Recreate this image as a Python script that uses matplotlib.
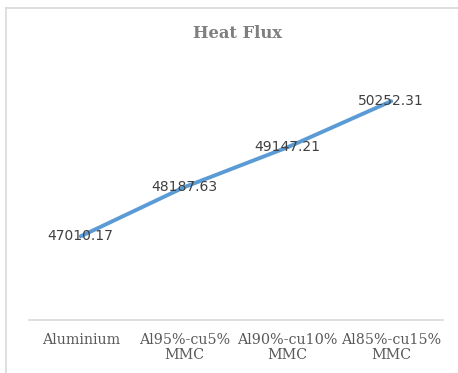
import matplotlib
matplotlib.use("Agg")
import matplotlib.pyplot as plt
from matplotlib.lines import Line2D

categories = ["Aluminium", "Al95%-cu5%\nMMC", "Al90%-cu10%\nMMC", "Al85%-cu15%\nMMC"]
heat_flux = [47010.17, 48187.63, 49147.21, 50252.31]
y_range = (45000, 51000)

LINE_BLUE = "#5B9BD5"
GRID_GREY = "#D9D9D9"
TEXT_GREY = "#595959"

fig = plt.figure(figsize=(4.58, 3.73), dpi=100)
fig.patch.set_facecolor("white")

# chart frame: only the left and top edges fall inside the image
fx, fy = 6 / 458, 1 - 8 / 373
fig.lines.append(Line2D([fx, fx], [0, fy], transform=fig.transFigure,
                        color=GRID_GREY, lw=1.2))
fig.lines.append(Line2D([fx, 1], [fy, fy], transform=fig.transFigure,
                        color=GRID_GREY, lw=1.2))

ax = fig.add_axes([29 / 458, 53 / 373, 414 / 458, 250 / 373])
x = list(range(len(categories)))
ax.plot(x, heat_flux, color=LINE_BLUE, lw=2.8, solid_capstyle="round", zorder=2)

for xi, v in zip(x, heat_flux):
    ax.text(xi, v, f"{v:.2f}", ha="center", va="center", fontsize=10,
            color="#404040", family="DejaVu Sans", zorder=3)

ax.set_xlim(-0.5, len(categories) - 0.5)
ax.set_ylim(*y_range)
ax.set_xticks(x)
ax.set_xticklabels(categories, family="DejaVu Serif", fontsize=10.3,
                   color=TEXT_GREY, linespacing=1.1)
ax.tick_params(axis="x", length=0, pad=9)
ax.set_yticks([])
for s in ("top", "right", "left"):
    ax.spines[s].set_visible(False)
ax.spines["bottom"].set_color(GRID_GREY)
ax.spines["bottom"].set_linewidth(1.2)

fig.text(237 / 458, 1 - 34 / 373, "Heat Flux", ha="center", va="center",
         fontsize=11.8, fontweight="bold", family="DejaVu Serif", color="#7F7F7F")

fig.savefig("out.png", dpi=100)
